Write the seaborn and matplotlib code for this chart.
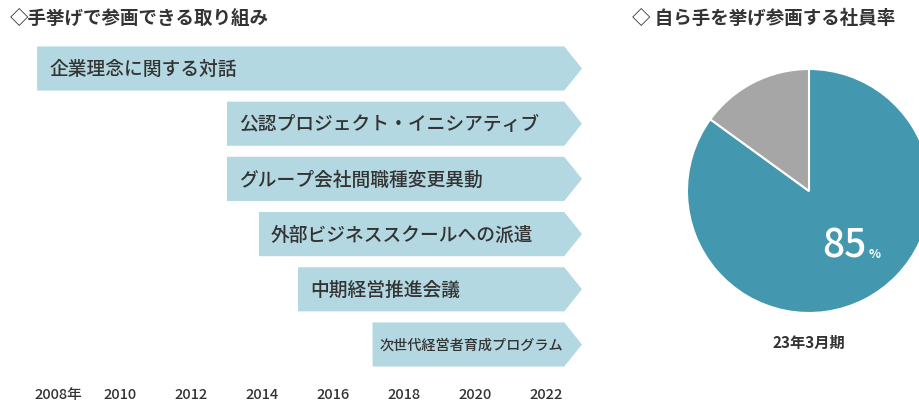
import numpy as np
import pandas as pd
import seaborn as sns
import matplotlib.pyplot as plt
from matplotlib.patches import Polygon
from matplotlib.transforms import ScaledTranslation

sns.set_style("white")
plt.rcParams["font.family"] = ["Noto Sans CJK JP", "DejaVu Sans"]

# data
programs = [
    "企業理念に関する対話",
    "公認プロジェクト・イニシアティブ",
    "グループ会社間職種変更異動",
    "外部ビジネススクールへの派遣",
    "中期経営推進会議",
    "次世代経営者育成プログラム",
]
start_year = [2007.65, 2013.0, 2013.0, 2013.9, 2015.0, 2017.1]
end_year = [2023.0, 2023.0, 2023.0, 2023.0, 2023.0, 2023.0]
year_ticks = [2008, 2010, 2012, 2014, 2016, 2018, 2020, 2022]
year_labels = ["2008年", "2010", "2012", "2014", "2016", "2018", "2020", "2022"]

pie_labels = ["挙手した社員", "その他"]
pie_values = [85, 15]
pie_period = "23年3月期"

BAR_COLOR = "#b4d8e1"
TEAL = "#4397ae"
GREY = "#a6a6a6"
TEXT = "#333333"
TIP = 0.5

fig = plt.figure(figsize=(9.2, 4.02), dpi=100)
W, H = 920, 402


def px_axes(x0, y0, x1, y1):
    return fig.add_axes([x0 / W, 1 - y1 / H, (x1 - x0) / W, (y1 - y0) / H])


# ---- left: timeline of programmes ----
ax = px_axes(20, 35, 600, 380)
df = pd.DataFrame({"program": programs,
                   "length": np.array(end_year) - np.array(start_year)})
sns.barplot(ax=ax, data=df, x="length", y="program", orient="h",
            color=BAR_COLOR, width=0.8, saturation=1)

for patch, s, e, name in zip(list(ax.patches), start_year, end_year, programs):
    y0 = patch.get_y()
    h = patch.get_height()
    patch.remove()
    pts = [(s, y0), (e - TIP, y0), (e, y0 + h / 2), (e - TIP, y0 + h), (s, y0 + h)]
    ax.add_patch(Polygon(pts, closed=True, facecolor=BAR_COLOR, edgecolor="none"))
    small = name == programs[-1]
    ax.text(s + (0.2 if small else 0.34), y0 + h / 2, name,
            fontsize=10.2 if small else 13.5, fontweight="medium",
            color=TEXT, va="center", ha="left")

ax.set_xlim(2007.169, 2023.507)
ax.set_ylim(5.625, -0.625)
ax.set_yticks([])
ax.set_xticks(year_ticks)
ax.set_xticklabels(year_labels, fontsize=10.5, fontweight="medium", color=TEXT)
ax.tick_params(axis="x", length=0, pad=6)
first = ax.get_xticklabels()[0]
first.set_transform(first.get_transform() + ScaledTranslation(8.5 / 100, 0, fig.dpi_scale_trans))
ax.set_xlabel("")
ax.set_ylabel("")
sns.despine(ax=ax, left=True, bottom=True)

fig.text(10 / W, 1 - 18 / H, "◇手挙げで参画できる取り組み", fontsize=13.3,
         fontweight="bold", color=TEXT, va="center", ha="left")

# ---- right: share of employees ----
pax = px_axes(809 - 122, 192 - 122, 809 + 122, 192 + 122)
pax.pie(pie_values, colors=[TEAL, GREY], startangle=90, counterclock=False,
        wedgeprops=dict(edgecolor="white", linewidth=1.5))
pax.set_xlim(-1, 1)
pax.set_ylim(-1, 1)
pax.set_aspect("equal")
pax.set_clip_on(False)
pax.text(0.47, -0.54, str(pie_values[0]), fontsize=28, fontweight="medium",
         color="white", ha="right", va="baseline")
pax.text(0.485, -0.54, "%", fontsize=9, fontweight="bold", color="white",
         ha="left", va="baseline")
pax.text(0.0, -1.24, pie_period, fontsize=11, fontweight="bold", color=TEXT,
         ha="center", va="center", clip_on=False)

fig.text(632 / W, 1 - 18 / H, "◇ 自ら手を挙げ参画する社員率", fontsize=13.3,
         fontweight="bold", color=TEXT, va="center", ha="left")

fig.savefig("out.png", dpi=100)
